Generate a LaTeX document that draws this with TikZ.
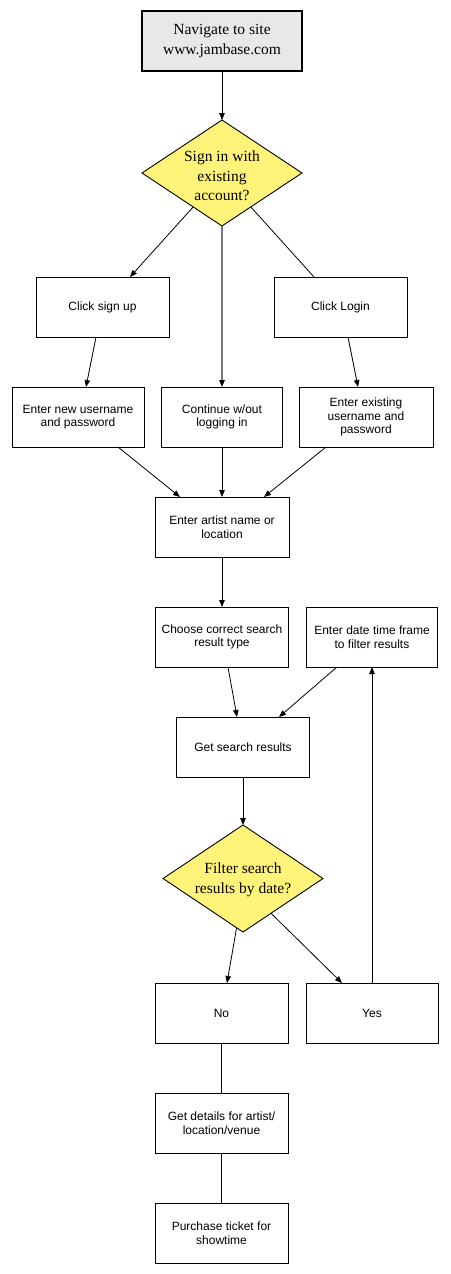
\documentclass[tikz,border=0pt]{standalone}
\usepackage{fontspec}
\setmainfont{Liberation Sans}
\newfontfamily\garafont{Liberation Serif}
\usetikzlibrary{shapes.geometric,arrows.meta,calc}
\definecolor{dyellow}{HTML}{FFF479}
\definecolor{topgray}{HTML}{E8E8E8}
\definecolor{midgray}{HTML}{777777}
\begin{document}
\begin{tikzpicture}[x=1pt,y=-1pt,
  box/.style={draw=black,line width=0.9pt,rectangle,minimum height=60pt,inner sep=0pt,outer sep=0pt,align=center,font=\fontsize{12}{13.5}\selectfont,text=black},
  dec/.style={draw=black,line width=0.9pt,diamond,fill=dyellow,minimum width=160pt,minimum height=106pt,inner sep=0pt,outer sep=0pt},
  dtext/.style={align=center,font=\garafont\fontsize{15.5}{19.5}\selectfont,inner sep=0pt},
  arr/.style={line width=0.8pt,-{Triangle[length=7pt,width=5.5pt]}},
  ln/.style={line width=0.8pt}]
\useasboundingbox (0,0) rectangle (450,1274);
% nodes
\node[box,fill=topgray,line width=2pt,minimum width=160pt,font=\garafont\fontsize{15.5}{19.5}\selectfont] (nav) at (222,41) {Navigate to site\\www.jambase.com};
\node[dec] (d1) at (222,173) {};
\node[dtext] (d1t) at (222,176) {Sign in with\\existing\\account?};
\node[box,minimum width=133pt] (su) at (102.5,307) {Click sign up};
\node[box,minimum width=133pt] (cl) at (340.5,307) {Click Login};
\node[box,minimum width=132pt] (nu) at (78,417) {Enter new username\\and password};
\node[box,minimum width=121pt] (co) at (222,417) {Continue w/out\\logging in};
\node[box,minimum width=134pt] (ex) at (366,417) {Enter existing\\username and\\password};
\node[box,minimum width=134pt] (ar) at (222,527) {Enter artist name or\\location};
\node[box,minimum width=133pt] (ch) at (222,637) {Choose correct search\\result type};
\node[box,minimum width=131pt] (dt) at (372,637) {Enter date time frame\\to filter results};
\node[box,minimum width=133pt] (gs) at (243,747) {Get search results};
\node[dec,minimum height=107pt] (d2) at (243,878.5) {};
\node[dtext] (d2t) at (243,880) {Filter search\\results by date?};
\node[box,minimum width=133pt] (no) at (221.5,1013) {No};
\node[box,minimum width=132pt] (ye) at (372,1013) {Yes};
\node[box,minimum width=133pt] (de) at (221.5,1123) {Get details for artist/\\location/venue};
\node[box,minimum width=133pt] (pu) at (221.5,1233) {Purchase ticket for\\showtime};
% connectors
\draw[arr] (nav.south) -- (d1.north);
\draw[arr] ($(d1.south)!0.36!(d1.west)$) -- ([xshift=27.5pt]su.north);
\draw[ln] ($(d1.south)!0.36!(d1.east)$) -- ([xshift=-26.5pt]cl.north);
\draw[line width=1.1pt,draw=midgray,-{Triangle[length=7pt,width=5.5pt,color=black]}] (d1.south) -- (co.north);
\draw[arr] ([xshift=-6.5pt]su.south) -- ([xshift=8pt]nu.north);
\draw[arr] ([xshift=7.5pt]cl.south) -- ([xshift=-8pt]ex.north);
\draw[arr] ([xshift=40pt]nu.south) -- ([xshift=-42pt]ar.north);
\draw[arr] (co.south) -- (ar.north);
\draw[arr] ([xshift=-40pt]ex.south) -- ([xshift=42pt]ar.north);
\draw[arr] (ar.south) -- (ch.north);
\draw[arr] ([xshift=6pt]ch.south) -- ([xshift=-6pt]gs.north);
\draw[arr] ([xshift=-35pt]dt.south) -- ([xshift=36pt]gs.north);
\draw[arr] (gs.south) -- (d2.north);
\draw[arr] ($(d2.south)!0.08!(d2.west)$) -- ([xshift=5.5pt]no.north);
\draw[arr] ($(d2.south)!0.35!(d2.east)$) -- ([xshift=-30pt]ye.north);
\draw[arr] (ye.north) -- (dt.south);
\draw[ln] (no.south) -- (de.north);
\draw[ln] (de.south) -- (pu.north);
\end{tikzpicture}
\end{document}
